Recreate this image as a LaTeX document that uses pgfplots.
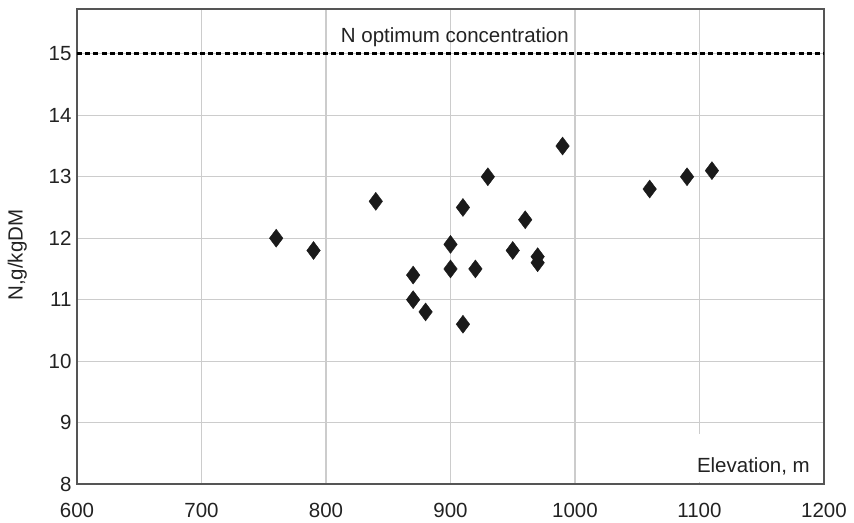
\documentclass[border=0pt]{standalone}
\usepackage{pgfplots}
\pgfplotsset{compat=1.18}
\usepackage{fontspec}
\setmainfont{Liberation Sans}

\definecolor{gridgray}{HTML}{CCCCCC}
\definecolor{framegray}{HTML}{555555}
\definecolor{markfill}{HTML}{1A1A1A}
\definecolor{labeltext}{HTML}{222222}

\newcommand{\labelfont}{\fontsize{20.5bp}{24bp}\selectfont}

\begin{document}
\begin{tikzpicture}
\begin{axis}[
  scale only axis,
  width=747bp, height=475bp,
  xmin=600, xmax=1200,
  ymin=8, ymax=15.73,
  xtick={600,700,...,1200},
  ytick={8,9,...,15},
  grid=major,
  major grid style={gridgray, line width=1.1bp},
  axis line style={framegray, line width=1.3bp},
  major tick length=0pt,
  /pgf/number format/assume math mode=true,
  /pgf/number format/1000 sep={},
  tick label style={font=\labelfont, text=labeltext},
  xticklabel style={yshift=-16bp},
  yticklabel style={xshift=-2bp},
  ylabel={N,g/kgDM},
  ylabel style={font=\labelfont, text=labeltext, rotate=0,
    at={(axis description cs:-0.08,0.482)}, anchor=center},
  clip=false,
]
% optimum nitrogen concentration
\addplot[black, line width=3bp, dash pattern=on 5bp off 3.2bp]
  coordinates {(600,15) (1200,15)};

% measured leaf nitrogen against site elevation
\addplot[only marks, mark=diamond*, mark size=9bp,
  mark options={fill=markfill, draw=markfill, line width=0.4bp}]
  table {
x y
760 12.0
790 11.8
840 12.6
870 11.4
870 11.0
880 10.8
900 11.9
900 11.5
910 12.5
910 10.6
920 11.5
930 13.0
950 11.8
960 12.3
970 11.7
970 11.6
990 13.5
1060 12.8
1090 13.0
1110 13.1
};

\node[anchor=base, font=\labelfont, text=labeltext, inner sep=0pt]
  at ([yshift=11bp]axis cs:903.5,15) {N optimum concentration};

\fill[white] ([shift={(-142bp,2bp)}]rel axis cs:1,0)
  rectangle ([shift={(-2bp,50bp)}]rel axis cs:1,0);
\node[anchor=base east, font=\labelfont, text=labeltext, inner sep=0pt]
  at ([shift={(-14bp,12bp)}]rel axis cs:1,0) {Elevation, m};
\end{axis}
\pgfresetboundingbox
\path ([shift={(-77bp,-39bp)}]current axis.south west) rectangle ++(854bp,523bp);
\end{tikzpicture}
\end{document}
